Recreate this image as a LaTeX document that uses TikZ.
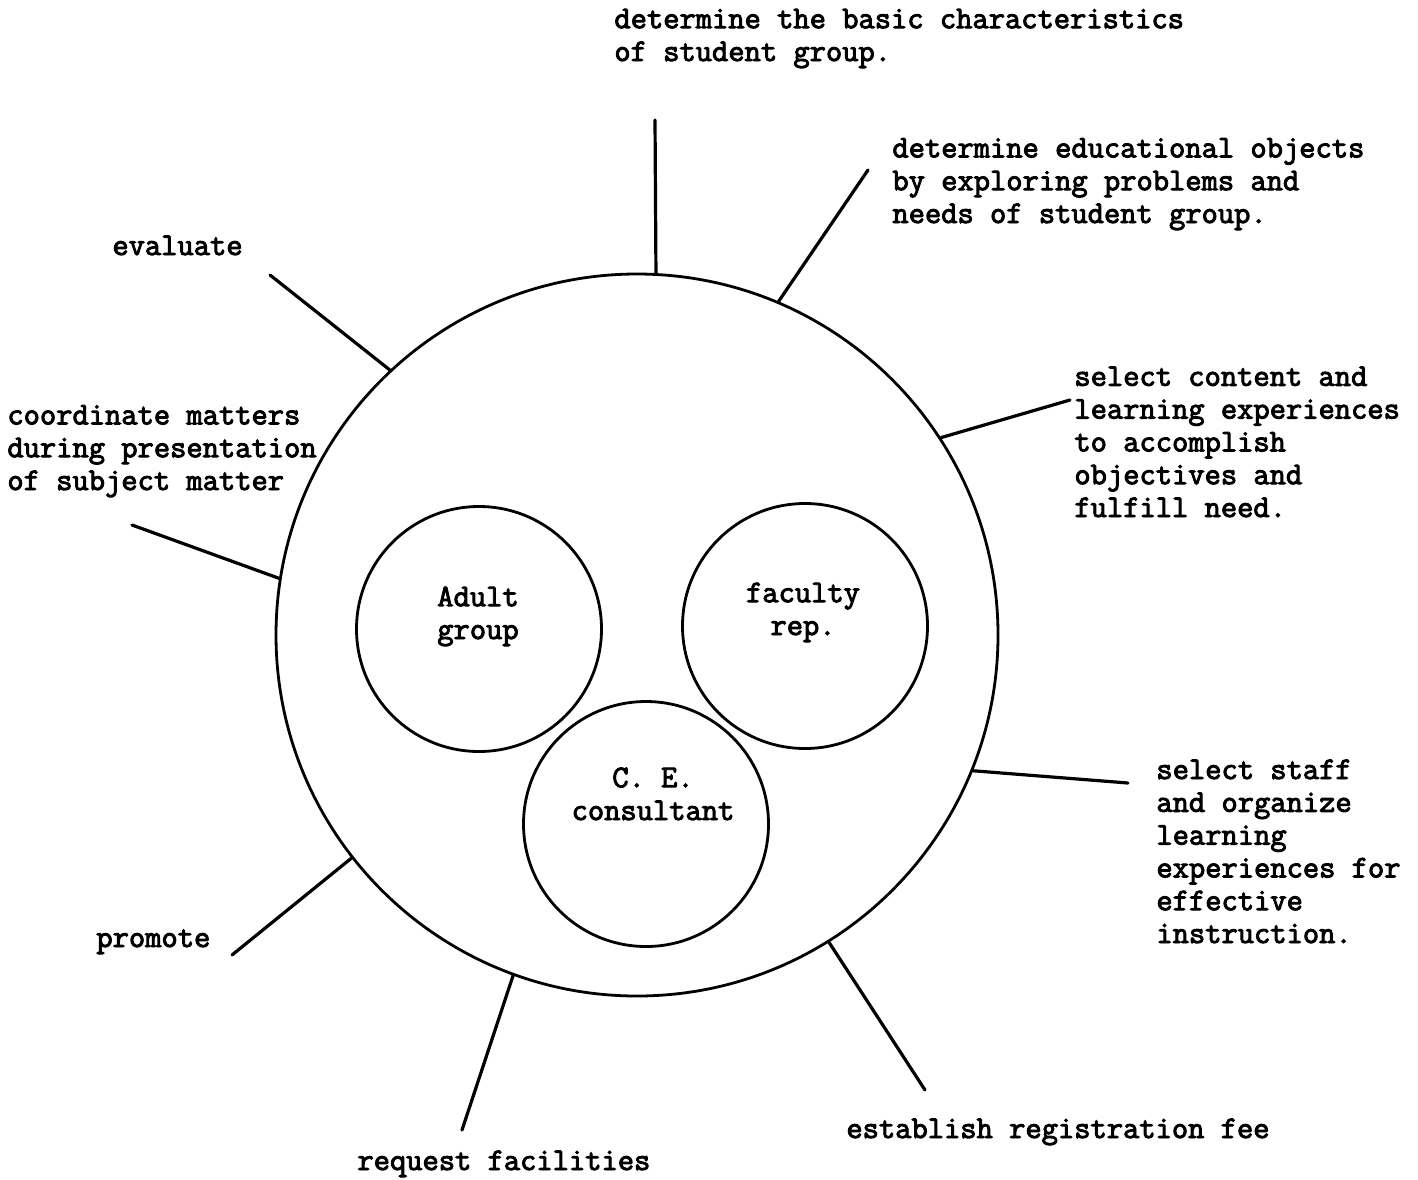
\documentclass[tikz,border=0pt]{standalone}
\usepackage{fontspec}
\setmonofont{Latin Modern Mono}[FakeBold=3]
\usetikzlibrary{positioning}

\begin{document}
\begin{tikzpicture}[x=0.5pt,y=-0.5pt,
                    every node/.style={inner sep=0pt},
                    ring/.style={draw, circle, line width=1.4pt},
                    task/.style={font=\ttfamily\fontsize{15.8}{16.4}\selectfont, align=left, anchor=base west},
                    member/.style={font=\ttfamily\fontsize{15.8}{16.4}\selectfont, align=center, anchor=base},
                    spoke/.style={line width=1.6pt, line cap=round}]
                    \useasboundingbox (0,0) rectangle (1418,1179);
                    % planning committee and its members
                    \node [ring, minimum size=361pt] (plan) at (637,635) {};
                    \node [ring, minimum size=122.5pt] (adult) at (479,629) {};
                    \node [ring, minimum size=122.5pt] (faculty) at (805,626) {};
                    \node [ring, minimum size=122.5pt] (consultant) at (646,824) {};
                    % base of a two-line text is its last line
                    \node [member] (adult-txt) at (478,639) {Adult\\group};
                    \node [member] (faculty-txt) at (803,635) {faculty\\rep.};
                    \node [member] (consultant-txt) at (653,820) {C. E.\\consultant};
                    % tasks
                    \node [task] (basic) at (614,61) {determine the basic characteristics\\of student group.};
                    \node [task] (objects) at (892,223) {determine educational objects\\by exploring problems and\\needs of student group.};
                    \node [task] (content) at (1074,517) {select content and\\learning experiences\\to accomplish\\objectives and\\fulfill need.};
                    \node [task] (staff) at (1156,943) {select staff\\and organize\\learning\\experiences for\\effective\\instruction.};
                    \node [task] (fee) at (846,1138) {establish registration fee};
                    \node [task] (facilities) at (357,1170) {request facilities};
                    \node [task] (promote) at (96,947) {promote};
                    \node [task] (coordinate) at (7,490) {coordinate matters\\during presentation\\of subject matter};
                    \node [task] (evaluate) at (112,255) {evaluate};
                    % spoke ends
                    \coordinate (basic-end) at (655,120);
                    \coordinate (objects-end) at (868,170);
                    \coordinate (content-end) at (1070,400);
                    \coordinate (staff-end) at (1128,783);
                    \coordinate (fee-end) at (925,1090);
                    \coordinate (facilities-end) at (462,1130);
                    \coordinate (promote-end) at (232,955);
                    \coordinate (coordinate-end) at (132,525);
                    \coordinate (evaluate-end) at (270,275);
                    \draw [spoke] (plan.87) -- (basic-end);
                    \draw [spoke] (plan.67) -- (objects-end);
                    \draw [spoke] (plan.33) -- (content-end);
                    \draw [spoke] (plan.-22) -- (staff-end);
                    \draw [spoke] (plan.-58) -- (fee-end);
                    \draw [spoke] (plan.-110) -- (facilities-end);
                    \draw [spoke] (plan.-142) -- (promote-end);
                    \draw [spoke] (plan.171) -- (coordinate-end);
                    \draw [spoke] (plan.133) -- (evaluate-end);
\end{tikzpicture}
\end{document}
